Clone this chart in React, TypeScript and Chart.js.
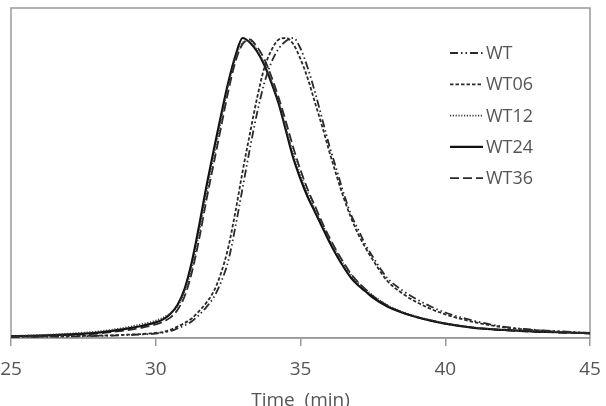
import React, { useEffect, useRef } from "react";
import { Chart, registerables } from "chart.js";

Chart.register(...registerables);

const timeMin = [
  25, 26, 27, 28, 28.5, 29, 29.5,
  30, 30.25, 30.5, 30.75, 31, 31.25, 31.5, 31.75, 32, 32.25, 32.5, 32.75,
  33, 33.25, 33.5, 33.75, 34, 34.25, 34.5, 34.75, 35, 35.25, 35.5, 35.75,
  36, 36.25, 36.5, 36.75, 37, 37.25, 37.5,
  38, 38.5, 39, 39.5, 40, 41, 42, 43, 44, 45,
];

const seriesNames = ["WT", "WT06", "WT12", "WT24", "WT36"];

const wt = [
  0.003, 0.004, 0.005, 0.007, 0.008, 0.01, 0.012,
  0.015, 0.018, 0.023, 0.032, 0.042, 0.056, 0.077, 0.103, 0.135, 0.185, 0.255, 0.37,
  0.5, 0.63, 0.75, 0.85, 0.92, 0.965, 0.99, 1.0, 0.965, 0.9, 0.82, 0.73,
  0.64, 0.56, 0.48, 0.41, 0.36, 0.31, 0.27,
  0.2, 0.16, 0.13, 0.105, 0.085, 0.057, 0.038, 0.028, 0.022, 0.017,
];

const wt06 = [
  0.004, 0.005, 0.006, 0.008, 0.009, 0.011, 0.013,
  0.017, 0.02, 0.027, 0.038, 0.05, 0.066, 0.09, 0.118, 0.155, 0.215, 0.3, 0.42,
  0.555, 0.68, 0.8, 0.9, 0.96, 0.995, 1.0, 0.98, 0.93, 0.865, 0.785, 0.705,
  0.62, 0.54, 0.465, 0.4, 0.345, 0.3, 0.26,
  0.19, 0.15, 0.12, 0.097, 0.079, 0.053, 0.036, 0.027, 0.021, 0.016,
];

const wt12 = [
  0.007, 0.01, 0.015, 0.022, 0.028, 0.036, 0.046,
  0.058, 0.068, 0.083, 0.105, 0.155, 0.235, 0.35, 0.48, 0.6, 0.72, 0.84, 0.93,
  0.985, 0.99, 0.96, 0.915, 0.855, 0.785, 0.7, 0.615, 0.545, 0.485, 0.43, 0.38,
  0.33, 0.285, 0.245, 0.21, 0.183, 0.162, 0.142,
  0.11, 0.088, 0.072, 0.06, 0.049, 0.035, 0.027, 0.022, 0.019, 0.016,
];

const wt24 = [
  0.006, 0.008, 0.012, 0.018, 0.024, 0.031, 0.04,
  0.052, 0.062, 0.08, 0.11, 0.165, 0.255, 0.375, 0.505, 0.625, 0.74, 0.85, 0.94,
  1.0, 0.985, 0.955, 0.91, 0.85, 0.78, 0.69, 0.6, 0.53, 0.47, 0.42, 0.37,
  0.32, 0.275, 0.235, 0.2, 0.175, 0.155, 0.135,
  0.105, 0.085, 0.07, 0.058, 0.048, 0.034, 0.027, 0.022, 0.019, 0.016,
];

const wt36 = [
  0.005, 0.007, 0.01, 0.015, 0.02, 0.026, 0.034,
  0.045, 0.054, 0.068, 0.093, 0.14, 0.22, 0.33, 0.46, 0.58, 0.7, 0.82, 0.92,
  0.98, 0.995, 0.97, 0.93, 0.87, 0.8, 0.72, 0.635, 0.56, 0.495, 0.44, 0.385,
  0.335, 0.29, 0.25, 0.213, 0.185, 0.162, 0.14,
  0.108, 0.086, 0.07, 0.058, 0.048, 0.034, 0.026, 0.021, 0.018, 0.015,
];

const xTicks = [25, 30, 35, 40, 45];

const seriesValues = [wt, wt06, wt12, wt24, wt36];
const seriesDash = [
  [8, 3, 1.5, 3, 1.5, 3],
  [3.5, 2],
  [1.2, 1.6],
  [],
  [9, 4],
];
const seriesColor = ["#2a2a2a", "#2a2a2a", "#3a3a3a", "#111111", "#2a2a2a"];
const seriesWidth = [1.8, 1.8, 1.6, 2.2, 1.8];

const FONT = "'Open Sans', 'Noto Sans', sans-serif";

const framePlugin = {
  id: "frame",
  beforeDatasetsDraw(chart: any) {
    const { ctx, chartArea } = chart;
    ctx.save();
    ctx.strokeStyle = "#9a9a9a";
    ctx.lineWidth = 1.5;
    ctx.strokeRect(chartArea.left, chartArea.top, chartArea.right - chartArea.left, chartArea.bottom - chartArea.top);
    ctx.restore();
  },
};

const legendPlugin = {
  id: "customLegend",
  afterDraw(chart: any) {
    const { ctx } = chart;
    ctx.save();
    const x0 = 450;
    const x1 = 483;
    const y0 = 53;
    const dy = 31.3;
    seriesNames.forEach((name, i) => {
      const y = y0 + i * dy;
      ctx.beginPath();
      ctx.setLineDash(seriesDash[i]);
      ctx.strokeStyle = seriesColor[i];
      ctx.lineWidth = seriesWidth[i];
      ctx.moveTo(x0, y);
      ctx.lineTo(x1, y);
      ctx.stroke();
      ctx.setLineDash([]);
      ctx.fillStyle = "#555555";
      ctx.font = `18px ${FONT}`;
      ctx.textBaseline = "middle";
      ctx.textAlign = "left";
      ctx.fillText(name, x1 + 3, y + 1);
    });
    ctx.restore();
  },
};

export default function App() {
  const canvasRef = useRef<HTMLCanvasElement | null>(null);

  useEffect(() => {
    document.body.style.margin = "0";
    const canvas = canvasRef.current;
    if (!canvas) return;
    const chart = new Chart(canvas, {
      type: "line",
      data: {
        datasets: seriesNames.map((name, i) => ({
          label: name,
          data: timeMin.map((t, k) => ({ x: t, y: seriesValues[i][k] })),
          borderColor: seriesColor[i],
          borderWidth: seriesWidth[i],
          borderDash: seriesDash[i],
          pointRadius: 0,
          fill: false,
          cubicInterpolationMode: "monotone" as const,
        })),
      },
      options: {
        responsive: false,
        animation: false,
        layout: { padding: { left: 11, right: 16, top: 8, bottom: 0 } },
        plugins: {
          legend: { display: false },
          tooltip: { enabled: false },
        },
        scales: {
          x: {
            type: "linear",
            min: 25,
            max: 45,
            afterBuildTicks: (scale: any) => {
              scale.ticks = xTicks.map((v) => ({ value: v }));
            },
            afterFit: (scale: any) => {
              scale.height = 68;
              scale.paddingLeft = 0;
              scale.paddingRight = 0;
            },
            grid: {
              drawOnChartArea: false,
              drawTicks: true,
              tickLength: 8,
              color: "#9a9a9a",
              lineWidth: 1.5,
            },
            border: { display: true, color: "#9a9a9a", width: 1.5 },
            ticks: {
              color: "#555555",
              font: { family: FONT, size: 19 },
              padding: 12,
              maxRotation: 0,
            },
            title: {
              display: true,
              text: "Time  (min)",
              color: "#555555",
              font: { family: FONT, size: 19 },
              padding: { top: 0, bottom: -6 },
            },
          },
          y: {
            display: false,
            min: 0,
            max: 1.1,
          },
        },
      },
      plugins: [framePlugin, legendPlugin],
    });
    return () => chart.destroy();
  }, []);

  return (
    <div style={{ position: "absolute", left: 0, top: 0, width: 606, height: 406 }}>
      <canvas ref={canvasRef} width={606} height={406} style={{ display: "block" }} />
    </div>
  );
}
